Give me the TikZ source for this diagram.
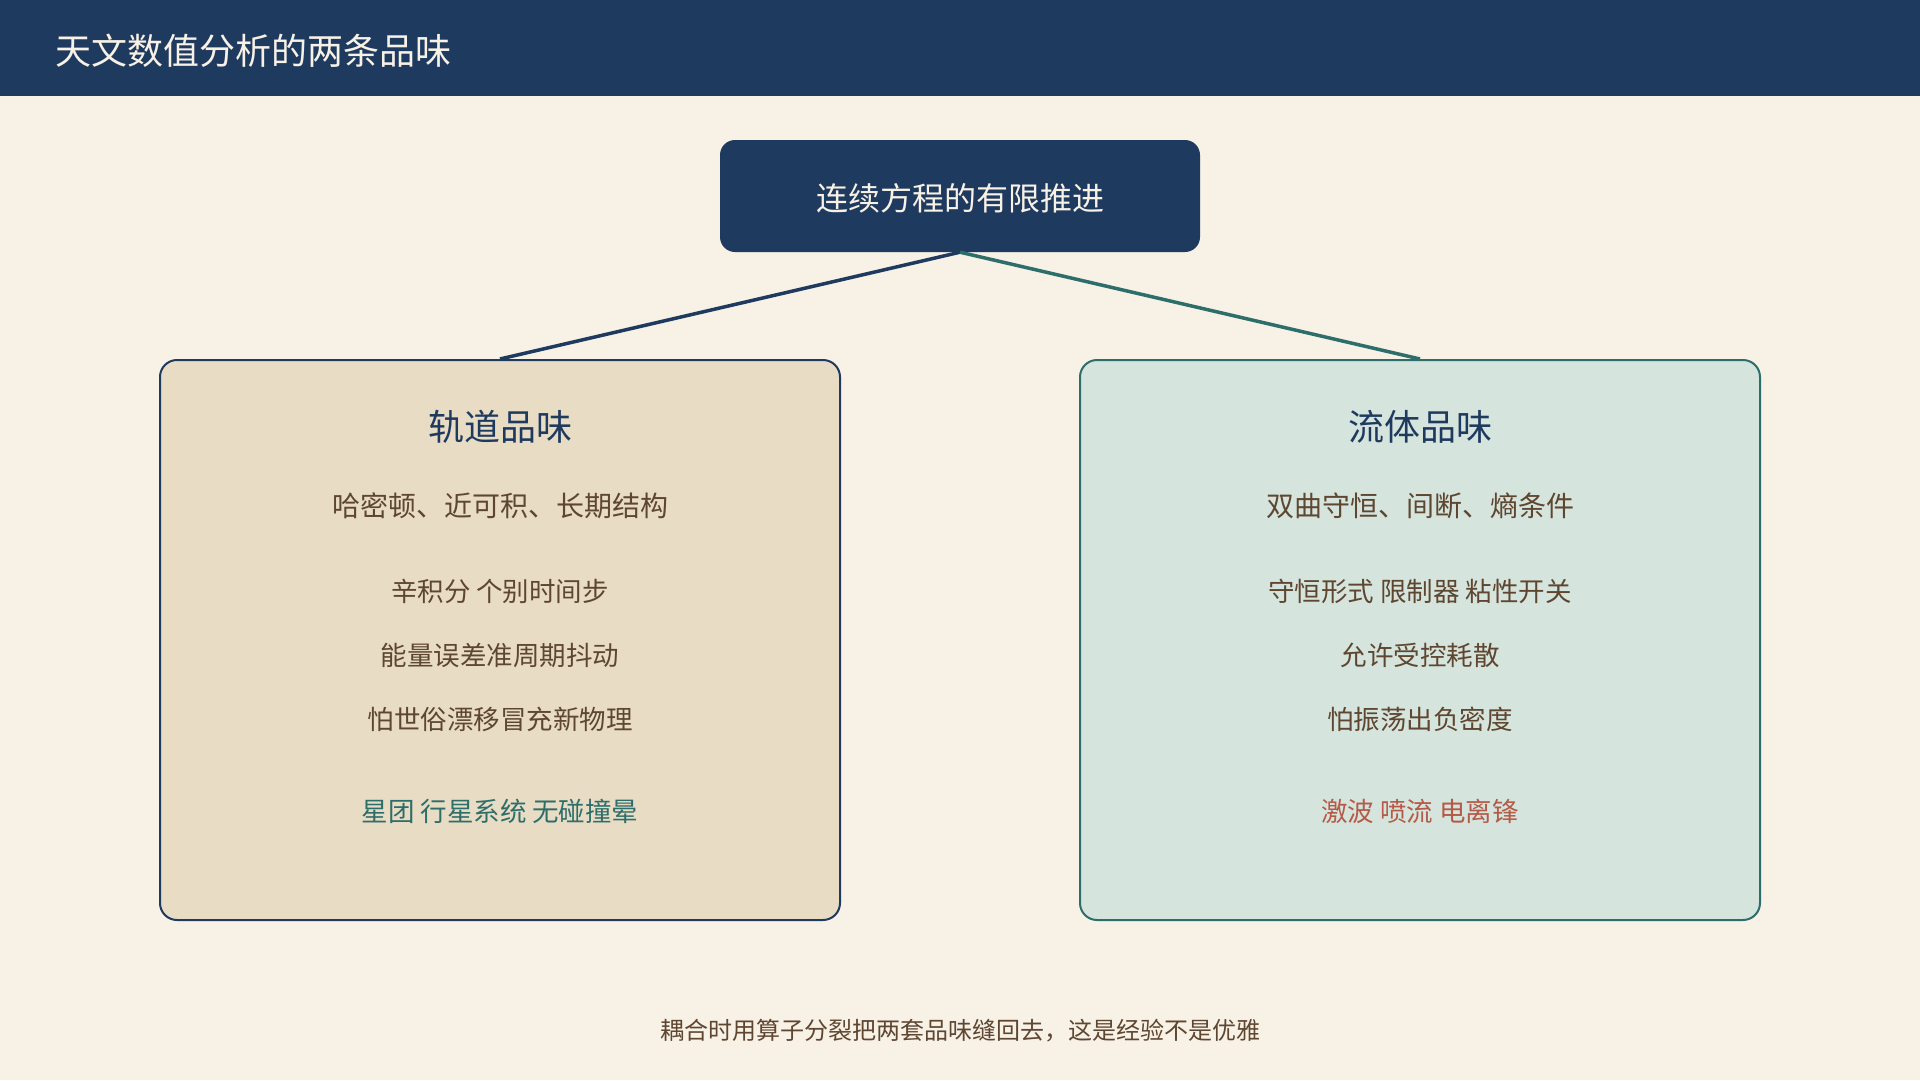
\documentclass[tikz,border=0pt]{standalone}
\usepackage{fontspec}
\setmainfont{Noto Sans CJK SC}
\definecolor{navy}{HTML}{1F3A5F}
\definecolor{bgc}{HTML}{F7F1E6}
\definecolor{leftfill}{HTML}{E8DCC4}
\definecolor{rightfill}{HTML}{D5E4DC}
\definecolor{teal}{HTML}{2E6E6A}
\definecolor{brownt}{HTML}{5E4630}
\definecolor{redt}{HTML}{B55A48}
\definecolor{whitet}{HTML}{F7F1E6}
\tikzset{
  txt/.style={inner sep=0pt, anchor=center},
  boxtitle/.style={txt, font=\fontsize{36}{42}\selectfont, text=navy},
  boxsub/.style={txt, font=\fontsize{28}{33}\selectfont, text=brownt},
  boxitem/.style={txt, font=\fontsize{26.5}{31}\selectfont, text=brownt},
  conn/.style={line width=3.5pt},
}
\begin{document}
\begin{tikzpicture}[x=1pt,y=-1pt]
\fill[bgc] (0,0) rectangle (1920,1080);
\useasboundingbox (0,0) rectangle (1920,1080);
\fill[navy] (0,0) rectangle (1920,95.5);
\node[txt, anchor=west, text=whitet, font=\fontsize{36}{42}\selectfont] (title) at (55,51) {天文数值分析的两条品味};

\node[fill=navy, rounded corners=15pt, minimum width=480pt, minimum height=112pt, inner sep=0pt] (top) at (960,196) {};
\node[txt, text=whitet, font=\fontsize{32}{38}\selectfont] (toptext) at (960,198.5) {连续方程的有限推进};

\node[draw=navy, fill=leftfill, line width=2pt, rounded corners=17pt, minimum width=680pt, minimum height=560pt, inner sep=0pt] (lbox) at (500,640) {};
\node[draw=teal, fill=rightfill, line width=2pt, rounded corners=17pt, minimum width=680pt, minimum height=560pt, inner sep=0pt] (rbox) at (1420,640) {};

\draw[conn, navy] (top.south) -- (lbox.north);
\draw[conn, teal] (top.south) -- (rbox.north);

\node[boxtitle] (lt) at (500,427) {轨道品味};
\node[boxsub] (ls) at (500,506) {哈密顿、近可积、长期结构};
\node[boxitem] (l1) at (500,591) {辛积分 个别时间步};
\node[boxitem] (l2) at (500,655) {能量误差准周期抖动};
\node[boxitem] (l3) at (500,719) {怕世俗漂移冒充新物理};
\node[boxitem, text=teal] (l4) at (500,811) {星团 行星系统 无碰撞晕};

\node[boxtitle] (rt) at (1420,427) {流体品味};
\node[boxsub] (rs) at (1420,506) {双曲守恒、间断、熵条件};
\node[boxitem] (r1) at (1420,591) {守恒形式 限制器 粘性开关};
\node[boxitem] (r2) at (1420,655) {允许受控耗散};
\node[boxitem] (r3) at (1420,719) {怕振荡出负密度};
\node[boxitem, text=redt] (r4) at (1420,811) {激波 喷流 电离锋};

\node[txt, text=brownt, font=\fontsize{24}{28}\selectfont] (foot) at (960,1031) {耦合时用算子分裂把两套品味缝回去，这是经验不是优雅};
\end{tikzpicture}
\end{document}
